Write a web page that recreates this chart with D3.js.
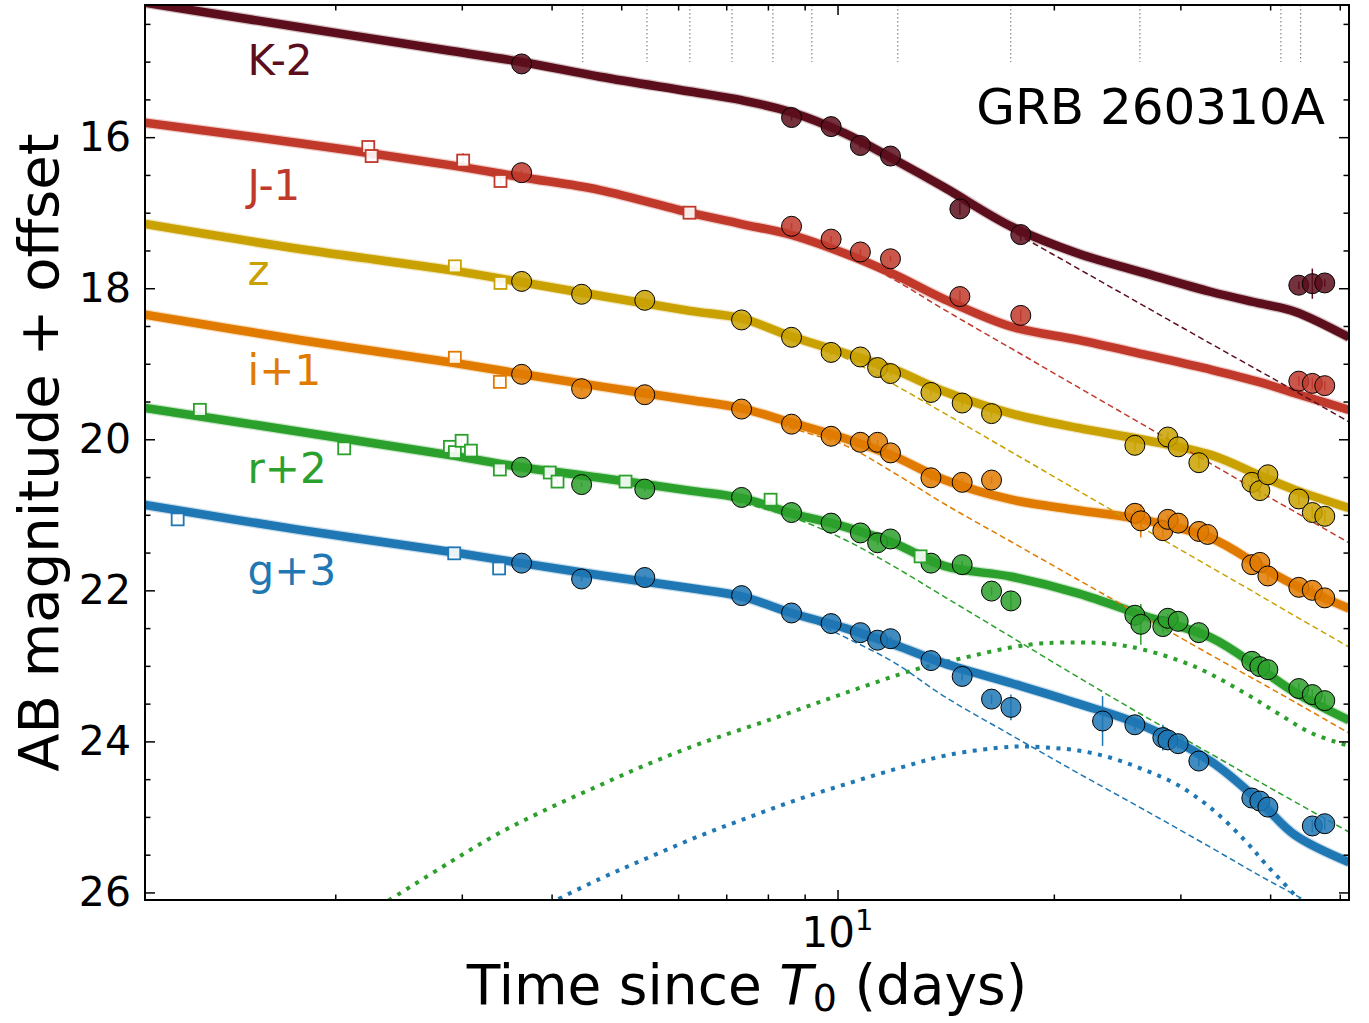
<!DOCTYPE html>
<html>
<head>
<meta charset="utf-8">
<script src="https://cdn.jsdelivr.net/npm/d3@7"></script>
<style>
  body { margin: 0; background: #fff; }
  text { font-family: "DejaVu Sans", sans-serif; }
</style>
</head>
<body>
<svg id="chart"></svg>
<script>
// ---- data (magnitudes already include the band offsets) ----
const bandNames = ["K-2", "J-1", "z", "i+1", "r+2", "g+3"];

// filled circles
const kT = [3.634, 8.630, 9.797, 10.76, 11.85, 14.80, 17.99, 43.85, 45.79, 47.65];
const kM = [15.03, 15.74, 15.86, 16.11, 16.25, 16.95, 17.29, 17.96, 17.94, 17.93];
const kE = [0.03, 0.04, 0.04, 0.04, 0.04, 0.08, 0.08, 0.05, 0.20, 0.05];

const jT = [3.634, 8.630, 9.797, 10.76, 11.85, 14.80, 17.99, 43.85, 45.79, 47.65];
const jM = [16.47, 17.18, 17.35, 17.52, 17.61, 18.11, 18.36, 19.23, 19.26, 19.29];
const jE = [0.03, 0.04, 0.04, 0.04, 0.04, 0.08, 0.08, 0.06, 0.08, 0.06];

const zT = [3.634, 4.404, 5.392, 7.353, 8.630, 9.797, 10.76, 11.37, 11.85, 13.49, 14.91, 16.38,
            25.93, 28.82, 29.79, 31.83, 37.72, 38.70, 39.71, 43.85, 45.79, 47.65];
const zM = [17.91, 18.08, 18.16, 18.42, 18.65, 18.85, 18.91, 19.05, 19.13, 19.38, 19.52, 19.66,
            20.08, 19.97, 20.10, 20.31, 20.57, 20.68, 20.47, 20.79, 20.97, 21.02];
const zE = [0.03, 0.03, 0.03, 0.03, 0.03, 0.03, 0.03, 0.03, 0.03, 0.04, 0.05, 0.05,
            0.08, 0.06, 0.06, 0.07, 0.08, 0.08, 0.08, 0.08, 0.08, 0.08];

const iT = [3.634, 4.404, 5.392, 7.353, 8.630, 9.797, 10.76, 11.37, 11.85, 13.49, 14.91, 16.38,
            25.93, 26.43, 28.36, 28.82, 29.79, 31.83, 32.73, 37.72, 38.70, 39.71, 43.85, 45.79, 47.65];
const iM = [19.14, 19.33, 19.41, 19.60, 19.80, 19.96, 20.04, 20.04, 20.18, 20.51, 20.57, 20.54,
            20.98, 21.08, 21.21, 21.06, 21.11, 21.22, 21.26, 21.66, 21.63, 21.81, 21.96, 22.00, 22.10];
const iE = [0.03, 0.03, 0.03, 0.03, 0.03, 0.03, 0.03, 0.03, 0.03, 0.04, 0.05, 0.05,
            0.06, 0.22, 0.10, 0.06, 0.06, 0.06, 0.06, 0.07, 0.07, 0.07, 0.07, 0.07, 0.07];

const rT = [3.634, 4.404, 5.392, 7.353, 8.630, 9.797, 10.76, 11.37, 11.85, 13.49, 14.91, 16.38, 17.43,
            25.93, 26.43, 28.36, 28.82, 29.79, 31.83, 37.72, 38.70, 39.71, 43.85, 45.79, 47.65];
const rM = [20.37, 20.60, 20.66, 20.77, 20.97, 21.11, 21.24, 21.37, 21.32, 21.64, 21.66, 22.01, 22.14,
            22.33, 22.45, 22.48, 22.37, 22.41, 22.56, 22.94, 23.01, 23.05, 23.30, 23.38, 23.46];
const rE = [0.03, 0.03, 0.03, 0.03, 0.03, 0.03, 0.03, 0.03, 0.03, 0.04, 0.05, 0.06, 0.12,
            0.08, 0.27, 0.08, 0.06, 0.06, 0.07, 0.07, 0.07, 0.07, 0.07, 0.07, 0.07];

const gT = [3.634, 4.404, 5.392, 7.353, 8.630, 9.797, 10.76, 11.37, 11.85, 13.49, 14.91, 16.38, 17.43,
            23.38, 25.93, 28.36, 28.82, 29.79, 31.83, 37.72, 38.70, 39.71, 45.79, 47.65];
const gM = [21.64, 21.85, 21.83, 22.07, 22.30, 22.44, 22.56, 22.66, 22.64, 22.93, 23.14, 23.44, 23.55,
            23.73, 23.78, 23.95, 23.98, 24.03, 24.26, 24.75, 24.79, 24.87, 25.12, 25.09];
const gE = [0.03, 0.03, 0.03, 0.03, 0.03, 0.03, 0.03, 0.03, 0.03, 0.04, 0.05, 0.06, 0.17,
            0.33, 0.08, 0.17, 0.07, 0.07, 0.07, 0.08, 0.08, 0.08, 0.08, 0.08];

// open squares
const jsT = [2.223, 2.247, 3.013, 3.396, 6.223];
const jsM = [16.13, 16.25, 16.31, 16.58, 17.00];
const jsE = [0.04, 0.04, 0.10, 0.04, 0.04];
const zsT = [2.934, 3.396];
const zsM = [17.71, 17.93];
const isT = [2.934, 3.389];
const isM = [18.92, 19.24];
const rsT = [1.296, 2.058, 2.888, 2.934, 2.998, 3.089, 3.389, 3.977, 4.077, 5.070, 8.069, 13.05];
const rsM = [19.61, 20.12, 20.10, 20.17, 20.02, 20.15, 20.40, 20.44, 20.56, 20.56, 20.80, 21.55];
const gsT = [1.207, 2.928, 3.381];
const gsM = [21.06, 21.51, 21.71];

// model curves, sampled on one time grid
const modelT = [1.087, 1.785, 2.888, 3.634, 4.670, 6.230, 7.353, 8.630, 10.24, 12.01, 14.11, 17.47,
                21.62, 26.77, 33.15, 38.90, 43.30, 51.5];
// total model (solid)
const kFit = [14.22, 14.545, 14.856, 15.004, 15.20, 15.395, 15.51, 15.67, 15.95, 16.30, 16.67, 17.185,
              17.54, 17.80, 18.05, 18.205, 18.31, 18.65];
const jFit = [15.81, 16.08, 16.37, 16.53, 16.70, 17.00, 17.15, 17.295, 17.54, 17.82, 18.15, 18.51,
              18.685, 18.88, 19.08, 19.25, 19.39, 19.61];
const zFit = [17.15, 17.48, 17.76, 17.92, 18.10, 18.30, 18.40, 18.64, 18.86, 19.08, 19.37, 19.66,
              19.85, 20.01, 20.21, 20.49, 20.67, 20.91];
const iFit = [18.35, 18.685, 18.98, 19.135, 19.30, 19.48, 19.59, 19.78, 19.99, 20.23, 20.54, 20.80,
              20.94, 21.07, 21.31, 21.69, 21.93, 22.24];
const rFit = [19.585, 19.90, 20.21, 20.37, 20.51, 20.68, 20.78, 20.98, 21.16, 21.38, 21.68, 21.82,
              22.04, 22.34, 22.63, 23.05, 23.35, 23.72];
const gFit = [20.87, 21.20, 21.49, 21.64, 21.80, 21.97, 22.08, 22.30, 22.50, 22.72, 22.97, 23.23,
              23.50, 23.80, 24.27, 24.82, 25.24, 25.60];
// afterglow only (dashed)
const kAg = [14.22, 14.545, 14.856, 15.004, 15.20, 15.395, 15.51, 15.67, 15.95, 16.30, 16.72, 17.24,
             17.74, 18.24, 18.74, 19.11, 19.36, 19.77];
const jAg = [15.81, 16.08, 16.37, 16.53, 16.70, 17.00, 17.15, 17.295, 17.54, 17.89, 18.29, 18.80,
             19.31, 19.82, 20.33, 20.71, 20.96, 21.37];
const zAg = [17.15, 17.48, 17.76, 17.92, 18.10, 18.30, 18.40, 18.64, 18.92, 19.28, 19.66, 20.17,
             20.68, 21.19, 21.70, 22.08, 22.34, 22.75];
const iAg = [18.35, 18.685, 18.98, 19.135, 19.30, 19.48, 19.59, 19.85, 20.08, 20.45, 20.86, 21.36,
             21.86, 22.36, 22.86, 23.23, 23.48, 23.89];
const rAg = [19.585, 19.90, 20.21, 20.37, 20.51, 20.68, 20.84, 21.03, 21.33, 21.69, 22.09, 22.62,
             23.15, 23.67, 24.17, 24.55, 24.80, 25.20];
const gAg = [20.87, 21.20, 21.49, 21.64, 21.80, 22.00, 22.09, 22.29, 22.62, 22.96, 23.41, 23.92,
             24.42, 24.91, 25.41, 25.79, 26.03, 26.43];

// extra component (dotted), r and g only
const rCompT = [2.307, 2.888, 3.389, 3.977, 4.670, 5.480, 6.434, 8.180, 10.24, 12.81, 14.57, 18.42,
                21.62, 24.06, 26.77, 31.42, 36.88, 41.03, 45.66, 51.5];
const rCompM = [26.18, 25.60, 25.21, 24.88, 24.58, 24.29, 24.03, 23.69, 23.36, 23.05, 22.92, 22.72,
                22.69, 22.71, 22.79, 23.01, 23.36, 23.63, 23.89, 24.06];
const gCompT = [3.852, 4.670, 5.480, 6.434, 7.548, 8.861, 10.40, 12.21, 14.26, 17.47, 19.44, 21.62,
                24.06, 26.77, 29.79, 33.15, 36.88, 39.57, 43.58, 45.42];
const gCompM = [26.21, 25.82, 25.53, 25.25, 25.00, 24.76, 24.55, 24.35, 24.18, 24.07, 24.08, 24.12,
                24.22, 24.38, 24.58, 24.89, 25.31, 25.64, 26.07, 26.30];

// epochs marked at the top
const specT = [4.42, 5.43, 6.23, 7.13, 8.13, 9.21, 12.13, 17.42, 26.35, 41.4, 44.1];

// axis ticks
const yMajor = [16, 18, 20, 22, 24, 26];
const yMinor = d3.range(14.5, 26.01, 0.5).filter(v => v % 2 !== 0);
const xMajor = [10];
const xMinor = [2, 3, 4, 5, 6, 7, 8, 9, 20, 30, 40, 50];

// ---- layout ----
const W = 1369, H = 1023;
const margin = { left: 145, right: 20, top: 5, bottom: 123 };
const pw = W - margin.left - margin.right;
const ph = H - margin.top - margin.bottom;

const colors = ["#5c0e1c", "#c0392b", "#c9a100", "#e07b00", "#2ca02c", "#1f77b4"];

const svg = d3.select("#chart").attr("width", W).attr("height", H);
const g = svg.append("g").attr("transform", `translate(${margin.left},${margin.top})`);

const x = d3.scaleLog().domain([1.087, 51.5]).range([0, pw]);
const y = d3.scaleLinear().domain([14.25, 26.1]).range([0, ph]);

svg.append("defs").append("clipPath").attr("id", "plotclip")
    .append("rect").attr("width", pw).attr("height", ph);

const plot = g.append("g").attr("clip-path", "url(#plotclip)");

const line = d3.line().x(d => x(d[0])).y(d => y(d[1])).curve(d3.curveCatmullRom.alpha(0.5));

const bands = [
    { fit: kFit, ag: kAg, t: kT, m: kM, e: kE, st: [], sm: [] },
    { fit: jFit, ag: jAg, t: jT, m: jM, e: jE, st: jsT, sm: jsM, se: jsE },
    { fit: zFit, ag: zAg, t: zT, m: zM, e: zE, st: zsT, sm: zsM },
    { fit: iFit, ag: iAg, t: iT, m: iM, e: iE, st: isT, sm: isM },
    { fit: rFit, ag: rAg, t: rT, m: rM, e: rE, st: rsT, sm: rsM, ct: rCompT, cm: rCompM },
    { fit: gFit, ag: gAg, t: gT, m: gM, e: gE, st: gsT, sm: gsM, ct: gCompT, cm: gCompM }
];

// spectral epochs
plot.append("g").selectAll("line")
    .data(specT)
    .enter().append("line")
    .attr("x1", d => x(d)).attr("x2", d => x(d))
    .attr("y1", 0).attr("y2", 57)
    .attr("stroke", "#888").attr("stroke-width", 1.2)
    .attr("stroke-dasharray", "1.5,2.5");

// dotted components
bands.forEach((b, k) => {
    if (!b.ct) return;
    plot.append("path")
        .datum(d3.zip(b.ct, b.cm))
        .attr("d", line)
        .attr("fill", "none")
        .attr("stroke", colors[k])
        .attr("stroke-width", 4)
        .attr("stroke-dasharray", "4,6.5");
});

// solid total model (soft edge underneath, then the main stroke)
bands.forEach((b, k) => {
    const pts = d3.zip(modelT, b.fit);
    plot.append("path")
        .datum(pts)
        .attr("d", line)
        .attr("fill", "none")
        .attr("stroke", colors[k])
        .attr("stroke-opacity", 0.25)
        .attr("stroke-width", 11);
    plot.append("path")
        .datum(pts)
        .attr("d", line)
        .attr("fill", "none")
        .attr("stroke", colors[k])
        .attr("stroke-width", 8.5)
        .attr("stroke-linejoin", "round");
});

// dashed afterglow
bands.forEach((b, k) => {
    plot.append("path")
        .datum(d3.zip(modelT, b.ag))
        .attr("d", line)
        .attr("fill", "none")
        .attr("stroke", colors[k])
        .attr("stroke-width", 1.5)
        .attr("stroke-dasharray", "6,3.5");
});

// data points
bands.forEach((b, k) => {
    const pts = d3.zip(b.t, b.m, b.e);
    const grp = plot.append("g");
    grp.selectAll(".eb")
        .data(pts)
        .enter().append("line")
        .attr("class", "eb")
        .attr("x1", d => x(d[0])).attr("x2", d => x(d[0]))
        .attr("y1", d => y(d[1] - d[2])).attr("y2", d => y(d[1] + d[2]))
        .attr("stroke", colors[k]).attr("stroke-width", 1.5);
    grp.selectAll("circle")
        .data(pts)
        .enter().append("circle")
        .attr("cx", d => x(d[0]))
        .attr("cy", d => y(d[1]))
        .attr("r", 10)
        .attr("fill", colors[k])
        .attr("fill-opacity", 0.85)
        .attr("stroke", "#000")
        .attr("stroke-width", 1);

    const sq = d3.zip(b.st, b.sm, b.se || b.st.map(() => 0.03));
    grp.selectAll(".seb")
        .data(sq)
        .enter().append("line")
        .attr("class", "seb")
        .attr("x1", d => x(d[0])).attr("x2", d => x(d[0]))
        .attr("y1", d => y(d[1] - d[2])).attr("y2", d => y(d[1] + d[2]))
        .attr("stroke", colors[k]).attr("stroke-width", 1.2);
    grp.selectAll("rect")
        .data(sq)
        .enter().append("rect")
        .attr("x", d => x(d[0]) - 6)
        .attr("y", d => y(d[1]) - 6)
        .attr("width", 12).attr("height", 12)
        .attr("fill", "#fff")
        .attr("fill-opacity", 0.9)
        .attr("stroke", colors[k])
        .attr("stroke-width", 1.8);
});

// band labels
const labelAt = [[1.51, 15.18], [1.51, 16.83], [1.51, 17.96], [1.51, 19.28], [1.51, 20.58], [1.51, 21.93]];
g.append("g").selectAll("text")
    .data(bandNames)
    .enter().append("text")
    .attr("x", (d, k) => x(labelAt[k][0]))
    .attr("y", (d, k) => y(labelAt[k][1]))
    .attr("fill", (d, k) => colors[k])
    .attr("font-size", 42)
    .text(d => d);

g.append("text")
    .attr("x", pw - 24).attr("y", 119)
    .attr("text-anchor", "end")
    .attr("font-size", 50)
    .text("GRB 260310A");

// ---- axes (ticks pointing inward on all four sides) ----
function styleAxis(sel) {
    sel.select(".domain").remove();
    sel.selectAll(".tick line").attr("stroke", "#000").attr("stroke-width", 1.5);
    sel.selectAll("text").attr("font-size", 41).attr("fill", "#000");
}

g.append("g").call(d3.axisLeft(y).tickValues(yMajor).tickSize(-10).tickPadding(14).tickFormat(d3.format("d")))
    .call(styleAxis);
g.append("g").call(d3.axisLeft(y).tickValues(yMinor).tickSize(-5.5).tickFormat(""))
    .call(styleAxis);
g.append("g").attr("transform", `translate(${pw},0)`)
    .call(d3.axisRight(y).tickValues(yMajor).tickSize(-10).tickFormat(""))
    .call(styleAxis);
g.append("g").attr("transform", `translate(${pw},0)`)
    .call(d3.axisRight(y).tickValues(yMinor).tickSize(-5.5).tickFormat(""))
    .call(styleAxis);

g.append("g").attr("transform", `translate(0,${ph})`)
    .call(d3.axisBottom(x).tickValues(xMajor).tickSize(-10).tickFormat(""))
    .call(styleAxis);
g.append("g").attr("transform", `translate(0,${ph})`)
    .call(d3.axisBottom(x).tickValues(xMinor).tickSize(-5.5).tickFormat(""))
    .call(styleAxis);
g.append("g")
    .call(d3.axisTop(x).tickValues(xMajor).tickSize(-10).tickFormat(""))
    .call(styleAxis);
g.append("g")
    .call(d3.axisTop(x).tickValues(xMinor).tickSize(-5.5).tickFormat(""))
    .call(styleAxis);

// 10^1 label
xMajor.forEach(v => {
    const t = g.append("text")
        .attr("x", x(v)).attr("y", ph + 47)
        .attr("text-anchor", "middle")
        .attr("font-size", 42);
    t.append("tspan").text("10");
    t.append("tspan").attr("dy", -17).attr("font-size", 29).text(Math.log10(v));
});

// frame
g.append("rect").attr("width", pw).attr("height", ph)
    .attr("fill", "none").attr("stroke", "#000").attr("stroke-width", 2);

// axis titles
const xt = svg.append("text")
    .attr("x", margin.left + pw / 2).attr("y", 1004)
    .attr("text-anchor", "middle")
    .attr("font-size", 55);
xt.append("tspan").text("Time since ");
xt.append("tspan").attr("font-style", "italic").text("T");
xt.append("tspan").attr("font-size", 38).attr("dy", 7).text("0");
xt.append("tspan").attr("dy", -7).text(" (days)");

svg.append("text")
    .attr("transform", `translate(58,${margin.top + ph / 2}) rotate(-90)`)
    .attr("text-anchor", "middle")
    .attr("font-size", 56)
    .text("AB magnitude + offset");
</script>
</body>
</html>
